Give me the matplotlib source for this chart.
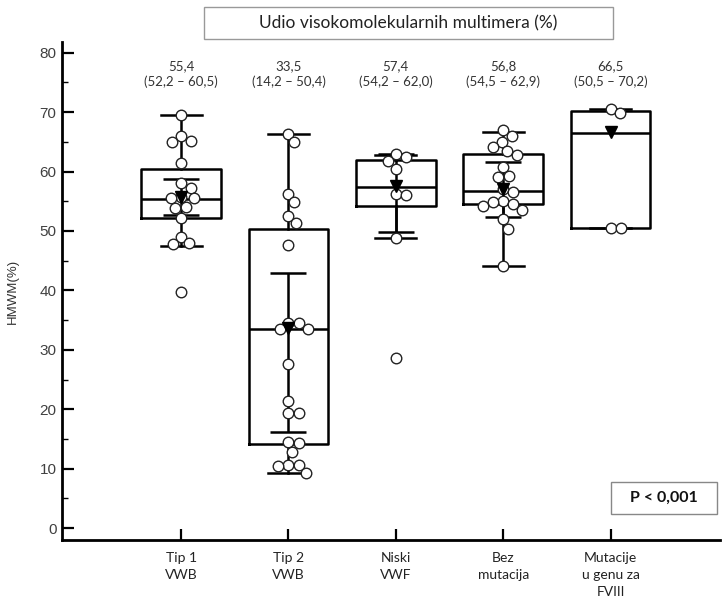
import numpy as np
import matplotlib.pyplot as plt
from matplotlib.patches import Rectangle

# group labels and box statistics
groups = ["Tip 1\nVWB", "Tip 2\nVWB", "Niski\nVWF", "Bez\nmutacija", "Mutacije\nu genu za\nFVIII"]
medians = [55.4, 33.5, 57.4, 56.8, 66.5]
q1 = [52.2, 14.2, 54.2, 54.5, 50.5]
q3 = [60.5, 50.4, 62.0, 62.9, 70.2]
whisk_lo = [47.5, 9.2, 48.8, 44.1, 50.5]
whisk_hi = [69.5, 66.4, 62.8, 66.7, 70.5]
means = [55.7, 33.7, 57.5, 57.0, 66.7]
err_lo = [52.7, 16.1, 49.9, 52.4, None]
err_hi = [58.7, 43.0, 63.0, 61.6, None]

# individual values
tip1 = [69.5, 65.9, 65.2, 64.9, 61.5, 58.0, 57.2, 55.5, 55.5, 55.7,
        53.8, 54.1, 52.1, 49.0, 47.8, 47.9, 39.8]
tip2 = [66.4, 64.9, 56.3, 54.8, 52.5, 51.3, 47.6, 33.5, 33.5, 34.5, 34.5,
        27.7, 21.4, 19.3, 19.3, 14.5, 14.3, 12.8, 10.4, 10.6, 10.6, 9.2]
niski = [63.0, 62.4, 61.8, 60.4, 56.2, 56.1, 48.8, 28.6]
bez = [67.0, 65.9, 65.0, 64.2, 63.4, 62.8, 60.8, 59.0, 59.3, 56.5, 57.0,
       55.0, 54.8, 54.5, 54.2, 53.5, 52.0, 50.4, 44.1]
mutacije = [70.6, 69.9, 50.5, 50.5]
points = [tip1, tip2, niski, bez, mutacije]

title = "Udio visokomolekularnih multimera (%)"
p_text = "P < 0,001"


def fmt(v):
    return ("%.1f" % v).replace(".", ",")


def swarm_offsets(ax, x0, vals, diam):
    # simple beeswarm: place each point at the smallest free horizontal offset
    xscale = ax.transData.transform((1, 0))[0] - ax.transData.transform((0, 0))[0]
    placed = []
    offs = []
    for v in vals:
        y = ax.transData.transform((x0, v))[1]
        cands = [0.0]
        for px, py in placed:
            dy = abs(py - y)
            if dy < diam:
                dx = np.sqrt(diam ** 2 - dy ** 2)
                cands += [px + dx, px - dx]
        cands.sort(key=abs)
        for c in cands:
            ok = True
            for px, py in placed:
                if (c - px) ** 2 + (y - py) ** 2 < diam ** 2 - 1e-6:
                    ok = False
                    break
            if ok:
                break
        placed.append((c, y))
        offs.append(c / xscale)
    return np.array(offs)


fig = plt.figure(figsize=(7.22, 6.04), dpi=100)
ax = fig.add_axes([62 / 722, 64 / 604, 658 / 722, 498 / 604])
ax.set_xlim(-0.11, 6.02)
ax.set_ylim(-2.0, 81.8)

pos = np.arange(1, len(groups) + 1)
stats = []
for i in range(len(groups)):
    stats.append({"med": medians[i], "q1": q1[i], "q3": q3[i],
                  "whislo": whisk_lo[i], "whishi": whisk_hi[i], "fliers": []})
lw = 1.8
ax.bxp(stats, positions=pos, widths=0.745, capwidths=0.38, showfliers=False,
       boxprops=dict(color="black", linewidth=lw),
       whiskerprops=dict(color="black", linewidth=lw),
       capprops=dict(color="black", linewidth=lw),
       medianprops=dict(color="black", linewidth=lw), zorder=2)

for i in range(len(groups)):
    if err_lo[i] is not None:
        ax.errorbar(pos[i], means[i], yerr=[[means[i] - err_lo[i]], [err_hi[i] - means[i]]],
                    fmt="none", ecolor="black", elinewidth=lw, capsize=13, capthick=lw, zorder=3)
    vals = sorted(points[i], reverse=True)
    dx = swarm_offsets(ax, pos[i], vals, 10.6)
    ax.plot(pos[i] + dx, vals, "o", ms=7.6, mfc="white", mec="#222222", mew=1.0,
            linestyle="none", zorder=4)
    ax.plot(pos[i], means[i], "v", ms=9, color="black", zorder=5)
    ax.text(pos[i], 76.4, fmt(medians[i]) + "\n(" + fmt(q1[i]) + " \u2013 " + fmt(q3[i]) + ")",
            ha="center", va="center", fontsize=9.5, family="Lato", color="#333333",
            linespacing=1.4)

ax.spines["top"].set_visible(False)
ax.spines["right"].set_visible(False)
ax.spines["left"].set_linewidth(2)
ax.spines["bottom"].set_linewidth(2)

ax.set_yticks(np.arange(0, 81, 10))
ax.set_yticks(np.arange(5, 80, 10), minor=True)
ax.tick_params(axis="y", which="major", direction="in", length=8.5, width=1.6,
               labelsize=11, labelcolor="#404040", pad=4)
ax.tick_params(axis="y", which="minor", direction="in", length=4.5, width=1.0)
for lab in ax.get_yticklabels():
    lab.set_family("Liberation Sans")

ax.set_xticks(pos)
ax.set_xticklabels(groups, family="Lato", fontsize=10, color="#222222", linespacing=1.45)
ax.tick_params(axis="x", direction="in", length=8, width=1.6, pad=9)

ax.set_ylabel("HMWM(%)", family="Liberation Sans", fontsize=9.5, color="#333333")
ax.yaxis.set_label_coords(-0.065, 0.5)

# title box above the plot
fig.patches.append(Rectangle((204 / 722, 1 - 39 / 604), 409 / 722, 32 / 604,
                             transform=fig.transFigure, fill=False, edgecolor="#999999", lw=1))
fig.text(408 / 722, 1 - 23 / 604, title, ha="center", va="center",
         family="Lato", fontsize=12.5, color="#222222")

# p-value box
fig.patches.append(Rectangle((611 / 722, 1 - 514 / 604), 106 / 722, 32 / 604,
                             transform=fig.transFigure, fill=False, edgecolor="#888888", lw=1))
fig.text(664 / 722, 1 - 498 / 604, p_text, ha="center", va="center",
         family="Lato", fontsize=11.5, weight="bold", color="#111111")

fig.savefig("out.png", dpi=100)
